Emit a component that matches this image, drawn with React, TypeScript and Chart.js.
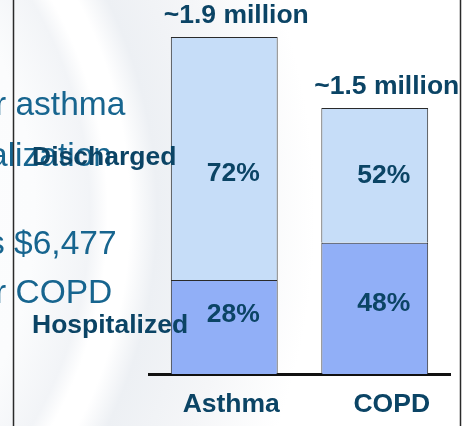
import React, { useEffect, useRef } from "react";
import { Chart, registerables } from "chart.js";

Chart.register(...registerables);

// ---- data (millions of patients) ----
const categories = ["Asthma", "COPD"];
const seriesNames = ["Hospitalized", "Discharged"];
const hospitalized = [0.53, 0.74];
const discharged = [1.37, 0.76];
const totalLabels = ["~1.9 million", "~1.5 million"];
const hospitalizedPct = ["28%", "48%"];
const dischargedPct = ["72%", "52%"];
const slideTextLines = ["r asthma", "alization", "s $6,477", "r COPD"];

const FONT = '"Liberation Sans", Arial, Helvetica, sans-serif';
const DARK = "#0b4465";
const SLIDE_BLUE = "#17658f";
const LIGHT = "#c6ddf8";
const MID = "#91aff7";

const slidePlugin = {
  id: "slideDecor",
  beforeDraw(chart: any) {
    const { ctx, width, height } = chart;
    ctx.save();
    const cx = -325, cy = 213, R = 800;
    const g = ctx.createRadialGradient(cx, cy, 0, cx, cy, R);
    g.addColorStop(0, "#ffffff");
    g.addColorStop(360 / R, "#fbfcfd");
    g.addColorStop(415 / R, "#f2f4f7");
    g.addColorStop(433 / R, "#ffffff");
    g.addColorStop(455 / R, "#ffffff");
    g.addColorStop(482 / R, "#edf0f4");
    g.addColorStop(560 / R, "#f5f6f8");
    g.addColorStop(640 / R, "#ffffff");
    g.addColorStop(1, "#ffffff");
    ctx.fillStyle = g;
    ctx.fillRect(0, 0, width, height);

    // slide text behind the chart
    ctx.fillStyle = SLIDE_BLUE;
    ctx.font = `33.5px ${FONT}`;
    ctx.textAlign = "left";
    ctx.textBaseline = "alphabetic";
    const pos = [
      [-5, 115],
      [-11, 166],
      [-12, 254],
      [-5, 303],
    ];
    slideTextLines.forEach((t, i) => ctx.fillText(t, pos[i][0], pos[i][1]));

    // frame lines
    ctx.strokeStyle = "#2a2a2a";
    ctx.lineWidth = 1.5;
    ctx.beginPath();
    ctx.moveTo(13.5, 0);
    ctx.lineTo(13.5, height);
    ctx.moveTo(460.5, 0);
    ctx.lineTo(460.5, height);
    ctx.stroke();
    ctx.restore();
  },
  afterDraw(chart: any) {
    const { ctx } = chart;
    const hMeta = chart.getDatasetMeta(0);
    const dMeta = chart.getDatasetMeta(1);
    const xScale = chart.scales.x;
    ctx.save();
    ctx.fillStyle = DARK;
    ctx.font = `bold 26.5px ${FONT}`;
    ctx.textAlign = "center";
    ctx.textBaseline = "alphabetic";

    const dNudge = [23, 8];
    const hNudge = [-5, 3];
    categories.forEach((c, i) => {
      const h = hMeta.data[i];
      const d = dMeta.data[i];
      // total above
      ctx.fillText(totalLabels[i], d.x + 12, d.y - 14);
      // discharged %
      ctx.fillText(dischargedPct[i], d.x + 9, (d.y + d.base) / 2 + dNudge[i]);
      // hospitalized %
      ctx.fillText(hospitalizedPct[i], h.x + 9, (h.y + h.base) / 2 + hNudge[i]);
      // category label
      ctx.fillText(c, xScale.getPixelForValue(i) + (i === 0 ? 7 : 17), 412);
    });

    // series names to the left of the first bar
    ctx.textAlign = "left";
    const h0 = hMeta.data[0];
    const d0 = dMeta.data[0];
    const left = chart.chartArea.left - 117;
    ctx.fillText(seriesNames[1], left, (d0.y + d0.base) / 2 + 7);
    ctx.fillText(seriesNames[0], left, (h0.y + h0.base) / 2 + 6);
    ctx.restore();
  },
};

export default function App() {
  const ref = useRef<HTMLCanvasElement | null>(null);

  useEffect(() => {
    document.body.style.margin = "0";
    const canvas = ref.current;
    if (!canvas) return;
    const chart = new Chart(canvas, {
      type: "bar",
      data: {
        labels: categories,
        datasets: [
          {
            label: seriesNames[0],
            data: hospitalized,
            backgroundColor: MID,
            borderColor: "#2a2a2a",
            borderWidth: 1,
          },
          {
            label: seriesNames[1],
            data: discharged,
            backgroundColor: LIGHT,
            borderColor: "#2a2a2a",
            borderWidth: 1,
          },
        ],
      },
      options: {
        responsive: false,
        animation: false,
        devicePixelRatio: 1,
        layout: { padding: { left: 149, right: 15, top: 37, bottom: 52 } },
        datasets: { bar: { barPercentage: 0.71, categoryPercentage: 1 } },
        plugins: {
          legend: { display: false },
          tooltip: { enabled: false },
          title: { display: false },
        },
        scales: {
          x: {
            stacked: true,
            z: 1,
            grid: { display: false, drawTicks: false, tickLength: 0 },
            ticks: { display: false },
            border: { display: true, color: "#111111", width: 3 },
          },
          y: {
            stacked: true,
            display: false,
            min: 0,
            max: 1.9,
          },
        },
      },
      plugins: [slidePlugin],
    });
    return () => chart.destroy();
  }, []);

  return (
    <div style={{ position: "absolute", left: 0, top: 0, width: 465, height: 426 }}>
      <canvas ref={ref} width={465} height={426} style={{ width: 465, height: 426, display: "block" }} />
    </div>
  );
}
